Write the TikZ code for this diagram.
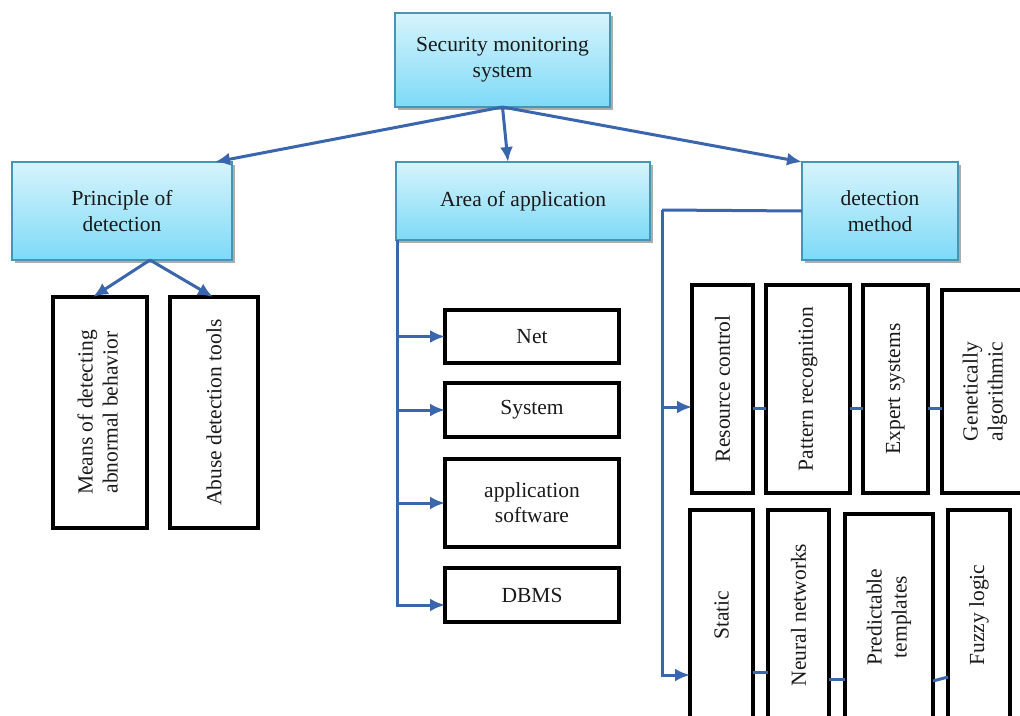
\documentclass[tikz,border=0pt]{standalone}
\usepackage{fontspec}
\setmainfont{Liberation Serif}
\usetikzlibrary{arrows.meta,shadows}
\definecolor{arrowblue}{HTML}{3A66AE}
\definecolor{boxtop}{HTML}{D6F4FC}
\definecolor{boxbot}{HTML}{7EDAF7}
\definecolor{boxline}{HTML}{4694B6}
\definecolor{txt}{HTML}{1A1A1A}
\begin{document}
\begin{tikzpicture}[x=1pt,y=-1pt,
  cbox/.style={draw=boxline, line width=2.5pt, top color=boxtop, bottom color=boxbot,
    align=center, text=txt, inner sep=0pt, outer sep=0pt,
    font=\fontsize{21.5}{26}\selectfont,
    drop shadow={shadow xshift=3pt, shadow yshift=-3pt, fill=gray!80, opacity=0.8}},
  bbox/.style={draw=black, line width=3.5pt, fill=white, align=center, text=txt,
    inner sep=0pt, outer sep=0pt, font=\fontsize{21.5}{25}\selectfont},
  conn/.style={draw=arrowblue, line width=3pt},
  arr/.style={conn, -{Latex[length=15pt,width=13pt]}}]
\clip (0,0) rectangle (1020,715);
\fill[white] (0,0) rectangle (1020,715);

% top level
\node[cbox, minimum width=215pt, minimum height=94pt] (top) at (502.5,60) {Security monitoring\\system};
\node[cbox, minimum width=220pt, minimum height=98pt] (princ) at (122,211) {Principle of\\detection};
\node[cbox, minimum width=254pt, minimum height=78pt] (area) at (523,201) {Area of application};
\node[cbox, minimum width=156pt, minimum height=98pt] (det) at (880,211) {detection\\method};

% principle children
\node[bbox, minimum width=94pt, minimum height=231pt] (means) at (100,412.5)
  {\rotatebox{90}{\begin{tabular}{@{}c@{}}Means of detecting\\abnormal behavior\end{tabular}}};
\node[bbox, minimum width=88pt, minimum height=231pt] (abuse) at (214,412.5)
  {\rotatebox{90}{Abuse detection tools}};

% area children
\node[bbox, minimum width=174pt, minimum height=53pt] (net) at (532,336.5) {Net};
\node[bbox, minimum width=174pt, minimum height=54pt] (sys) at (532,410) {System};
\node[bbox, minimum width=174pt, minimum height=88pt] (app) at (532,503) {application\\software};
\node[bbox, minimum width=174pt, minimum height=54pt] (dbms) at (532,595) {DBMS};

% detection method children, top row
\node[bbox, minimum width=61pt, minimum height=208pt] (rc) at (722.5,389) {\rotatebox{90}{Resource control}};
\node[bbox, minimum width=84pt, minimum height=208pt] (pr) at (808,389) {\rotatebox{90}{Pattern recognition}};
\node[bbox, minimum width=65pt, minimum height=208pt] (es) at (895.5,389) {\rotatebox{90}{Expert systems}};
\node[bbox, minimum width=86pt, minimum height=203pt] (ga) at (985,391.5)
  {\rotatebox{90}{\begin{tabular}{@{}c@{}}Genetically\\algorithmic\end{tabular}}};

% bottom row
\node[bbox, minimum width=63pt, minimum height=210pt] (st) at (721.5,615) {\rotatebox{90}{Static}};
\node[bbox, minimum width=61pt, minimum height=210pt] (nn) at (798.5,615) {\rotatebox{90}{Neural networks}};
\node[bbox, minimum width=88pt, minimum height=206pt] (pt) at (889,617)
  {\rotatebox{90}{\begin{tabular}{@{}c@{}}Predictable\\templates\end{tabular}}};
\node[bbox, minimum width=62pt, minimum height=210pt] (fl) at (979,615) {\rotatebox{90}{Fuzzy logic}};

% connectors from top
\draw[arr] (top.south) -- ([xshift=93pt]princ.north);
\draw[arr] (top.south) -- ([xshift=-15pt]area.north);
\draw[arr] (top.south) -- (det.north west);

% principle
\draw[arr] ([xshift=28pt]princ.south) -- ([xshift=-7pt]means.north);
\draw[arr] ([xshift=28pt]princ.south) -- ([xshift=-1pt]abuse.north);

% area
\coordinate (aleft) at ([xshift=1pt]area.south west);
\draw[arr] (aleft) |- (net.west);
\draw[arr] (aleft) |- (sys.west);
\draw[arr] (aleft) |- (app.west);
\draw[arr] (aleft) |- ([yshift=-10pt]dbms.west);

% detection method
\coordinate (dcorner) at (662,210);
\draw[conn] (det.west) -- (dcorner);
\draw[arr] (dcorner) |- ([yshift=-18pt]rc.west);
\draw[arr] (dcorner) |- ([yshift=-60pt]st.west);

% row links
\draw[conn] ([yshift=-19pt]rc.east) -- ([yshift=-19pt]rc.east -| pr.west);
\draw[conn] ([yshift=-19pt]pr.east) -- ([yshift=-19pt]pr.east -| es.west);
\draw[conn] ([yshift=-19pt]es.east) -- ([yshift=-19pt]es.east -| ga.west);
\draw[conn] ([yshift=-57pt]st.east) -- ([yshift=-57pt]st.east -| nn.west);
\draw[conn] ([yshift=-64pt]nn.east) -- ([yshift=-64pt]nn.east -| pt.west);
\draw[conn] ([yshift=-64pt]pt.east) -- ([yshift=-62pt]fl.west);
\end{tikzpicture}
\end{document}
